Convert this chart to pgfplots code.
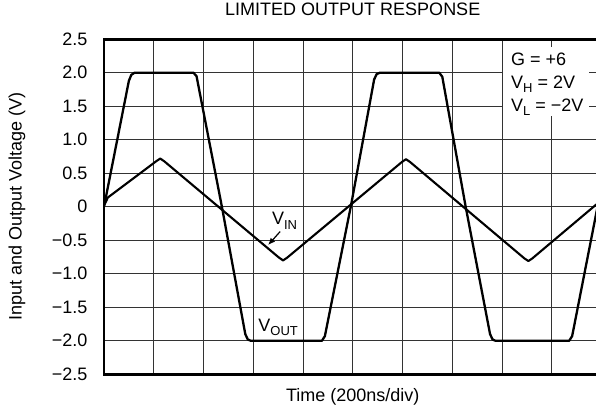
\documentclass[border=0pt]{standalone}
\usepackage{fontspec}
\setmainfont{Liberation Sans}
\usepackage{pgfplots}
\pgfplotsset{compat=1.18}
\usetikzlibrary{arrows.meta}
\newcommand{\sub}[1]{\raisebox{-0.45ex}{\fontsize{13bp}{14bp}\selectfont #1}}
\begin{document}
\fontsize{18bp}{21bp}\selectfont
\begin{tikzpicture}
\path[use as bounding box] (0,0) rectangle (596bp,414bp);
\begin{axis}[
  at={(104bp,39.7bp)}, anchor=south west,
  scale only axis, width=497.5bp, height=335bp,
  xmin=0, xmax=10, ymin=-2.5, ymax=2.5,
  xtick={0,1,...,10}, xticklabels={},
  ytick={-2.5,-2,-1.5,-1,-0.5,0,0.5,1,1.5,2,2.5},
  yticklabels={−2.5,−2.0,−1.5,−1.0,−0.5,0,0.5,1.0,1.5,2.0,2.5},
  yticklabel style={anchor=east, inner sep=0pt, xshift=-16.5bp},
  major tick length=0pt, tick style={draw=none},
  grid=major, major grid style={draw=black!80, line width=1bp},
  axis line style={line width=2.6bp},
  title={LIMITED OUTPUT RESPONSE},
  title style={at={(axis description cs:0.5,1)}, anchor=center, yshift=23.7bp},
  xlabel={Time (200ns/div)},
  xlabel style={at={(axis description cs:0.5,0)}, anchor=base, yshift=-26.7bp},
  ylabel={Input and Output Voltage (V)},
  ylabel style={at={(axis description cs:0,0.5)}, anchor=base, yshift=82.3bp},
]
\addplot[black, line width=2.3bp, line join=round] coordinates {
(0,0.0) (0.5,1.88) (0.55,1.97) (0.61,2.0) (1.8,2.0) (1.86,1.95) (2.37,0) (2.84,-1.9) (2.89,-1.98) (2.95,-2.0)
(4.38,-2.0) (4.44,-1.93) (4.96,0) (5.43,1.9) (5.48,1.98) (5.54,2.0) (6.74,2.0) (6.8,1.94) (7.27,0) (7.76,-1.9)
(7.81,-1.98) (7.87,-2.0) (9.35,-2.0) (9.41,-1.93) (9.92,0) (10,0.3)
};
\addplot[black, line width=2.1bp, line join=round] coordinates {
(0,0.02) (0.08,0.14) (1.05,0.68) (1.13,0.72) (1.21,0.68) (3.52,-0.76) (3.60,-0.80) (3.68,-0.76)
(5.99,0.67) (6.07,0.71) (6.15,0.67) (8.45,-0.77) (8.53,-0.81) (8.61,-0.77) (10,0.10)
};
\fill[white] (axis cs:8.02,1.35) rectangle (axis cs:9.74,2.38);
\node[anchor=base west, inner sep=0pt] at (axis cs:8.18,2.11) {G = +6};
\node[anchor=base west, inner sep=0pt] at (axis cs:8.18,1.77) {V\sub{H} = 2V};
\node[anchor=base west, inner sep=0pt] at (axis cs:8.18,1.42) {V\sub{L} = −2V};
\node[inner sep=0pt] at (axis cs:3.63,-0.21) {V\sub{IN}};
\draw[-{Latex[length=7bp,width=6bp]}, line width=1.2bp] (axis cs:3.54,-0.37) -- (axis cs:3.30,-0.57);
\node[inner sep=0pt] at (axis cs:3.50,-1.80) {V\sub{OUT}};
\end{axis}
\end{tikzpicture}
\end{document}
